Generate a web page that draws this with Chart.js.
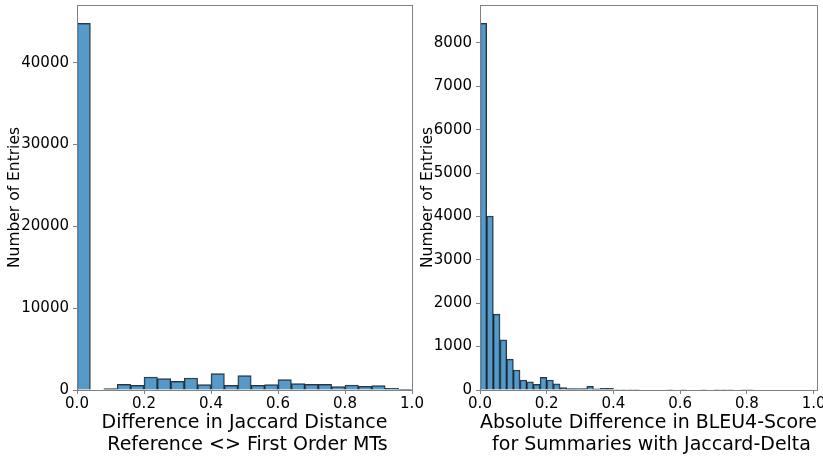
<!DOCTYPE html>
<html>
<head>
<meta charset="utf-8">
<script src="https://cdn.jsdelivr.net/npm/chart.js@4.4.1/dist/chart.umd.min.js"></script>
<style>
  body { margin: 0; background: #fff; }
  .panel { position: absolute; top: 0; }
</style>
</head>
<body>
<div class="panel" style="left:0"><canvas id="jaccard-hist" width="432" height="457"></canvas></div>
<div class="panel" style="left:416px"><canvas id="bleu-hist" width="407" height="457"></canvas></div>
<script>
/** Histogramme gauche : 25 classes de largeur 0.04 */
const jaccardBinWidth = 0.04;
const jaccardCounts = [44800, 0, 160, 690, 570, 1590, 1390, 1060, 1470, 650,
  2000, 570, 1760, 570, 650, 1270, 780, 690, 690, 410,
  610, 450, 530, 200, 80];

/** Histogramme droit : 50 classes de largeur 0.02 */
const bleuBinWidth = 0.02;
const bleuCounts = [8450, 4010, 1750, 1155, 710, 460, 230, 190, 130, 290,
  230, 140, 55, 30, 30, 30, 85, 25, 40, 40,
  12, 12, 12, 12, 0, 0, 0, 0, 12, 0,
  12, 0, 0, 12, 0, 12, 12, 12, 0, 12,
  12, 0, 0, 0, 0, 0, 0, 0, 0, 0];

const xTicks = [0, 0.2, 0.4, 0.6, 0.8, 1.0];
const jaccardYTicks = [0, 10000, 20000, 30000, 40000];
const bleuYTicks = [0, 1000, 2000, 3000, 4000, 5000, 6000, 7000, 8000];

const jaccardTitle = ['Difference in Jaccard Distance', ' Reference <> First Order MTs'];
const bleuTitle = ['Absolute Difference in BLEU4-Score', ' for Summaries with Jaccard-Delta'];
const yTitle = 'Number of Entries';

const fontFamily = "'DejaVu Sans', sans-serif";
const spineColor = '#808080';

/** Cadre autour de la zone de tracé, dessiné par-dessus les barres */
const cadre = {
  id: 'cadre',
  afterDraw(chart) {
    const { ctx, chartArea: a } = chart;
    ctx.save();
    ctx.strokeStyle = spineColor;
    ctx.lineWidth = 1;
    ctx.strokeRect(Math.round(a.left) + 0.5, Math.round(a.top) + 0.5,
      Math.round(a.right - a.left), Math.round(a.bottom - a.top));
    ctx.restore();
  }
};

const dessineHistogramme = function(canvasId, counts, binWidth, xMax, yTicks, xTitle, yAxisWidth, yTitlePad, padRight) {
  const points = counts.map((c, i) => ({ x: (i + 0.5) * binWidth, y: c }));
  const data = {
    datasets: [{
      data: points,
      backgroundColor: 'rgba(31, 119, 180, 0.75)',
      borderColor: 'rgba(0, 0, 0, 0.8)',
      borderWidth: 1,
      barPercentage: 1,
      categoryPercentage: 1
    }]
  };
  const options = {
    responsive: false,
    animation: false,
    devicePixelRatio: 1,
    layout: { padding: { top: 5, right: padRight, left: 0, bottom: 0 } },
    plugins: { legend: { display: false }, tooltip: { enabled: false } },
    scales: {
      x: {
        type: 'linear',
        min: 0,
        max: xMax,
        offset: false,
        afterBuildTicks: axis => { axis.ticks = xTicks.map(v => ({ value: v })); },
        afterFit: axis => { axis.height = 67; axis.paddingLeft = 0; axis.paddingRight = 0; },
        border: { display: false },
        grid: { display: true, drawOnChartArea: false, drawTicks: true, tickLength: 4, color: spineColor, offset: false },
        ticks: {
          color: '#000', padding: 1, maxRotation: 0,
          font: { family: fontFamily, size: 15 },
          callback: v => v.toFixed(1)
        },
        title: {
          display: true, text: xTitle, color: '#000',
          font: { family: fontFamily, size: 19, lineHeight: 1.14 },
          padding: { top: 0, bottom: 1 }
        }
      },
      y: {
        min: 0,
        max: Math.max(...counts) * 1.05,
        afterBuildTicks: axis => { axis.ticks = yTicks.map(v => ({ value: v })); },
        afterFit: axis => { axis.width = yAxisWidth; axis.paddingTop = 0; axis.paddingBottom = 0; },
        border: { display: false },
        grid: { display: true, drawOnChartArea: false, drawTicks: true, tickLength: 4, color: spineColor },
        ticks: {
          color: '#000', padding: 4,
          font: { family: fontFamily, size: 15 },
          callback: v => String(v)
        },
        title: {
          display: true, text: yTitle, color: '#000',
          font: { family: fontFamily, size: 15.5 },
          padding: { top: yTitlePad, bottom: 0 }
        }
      }
    }
  };
  const ctx = document.getElementById(canvasId).getContext('2d');
  return new Chart(ctx, { type: 'bar', data, options, plugins: [cadre] });
};

dessineHistogramme('jaccard-hist', jaccardCounts, jaccardBinWidth, 1.0, jaccardYTicks, jaccardTitle, 77, 6, 20);
dessineHistogramme('bleu-hist', bleuCounts, bleuBinWidth, 1.01, bleuYTicks, bleuTitle, 64, 3, 6);
</script>
</body>
</html>
